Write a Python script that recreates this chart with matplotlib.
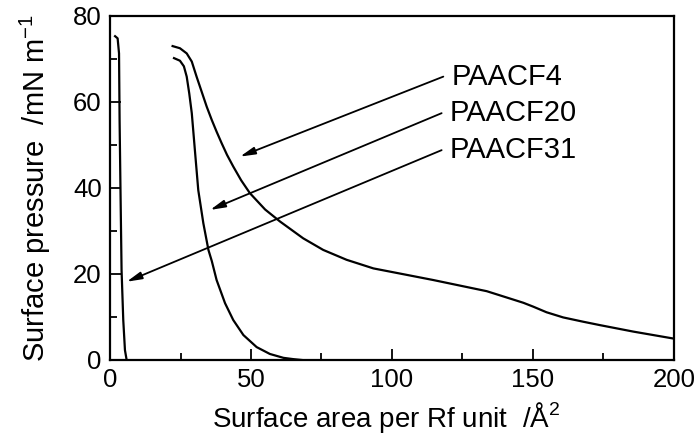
import numpy as np
import matplotlib.pyplot as plt
from matplotlib.ticker import MultipleLocator

plt.rcParams['font.family'] = ['Liberation Sans', 'DejaVu Sans']
plt.rcParams['mathtext.fontset'] = 'custom'
plt.rcParams['mathtext.rm'] = 'Liberation Sans'

# isotherm curves (area per Rf unit / A^2, surface pressure / mN m-1)
x_cf31 = [1.8, 2.7, 3.2, 3.4, 3.7, 4.1, 4.7, 5.3, 5.9]
y_cf31 = [75.3, 74.8, 71.3, 55.8, 40.3, 20.9, 9.3, 2.3, 0.0]

x_cf4 = [22.2, 24.8, 27.2, 29.0, 30.7, 32.5, 34.3, 36.1, 37.8, 39.6, 41.5,
         43.7, 46.5, 49.6, 55.0, 60.3, 68.5, 75.6, 83.9, 93.4, 105.2, 114.6,
         124.1, 133.6, 141.8, 146.6, 150.1, 154.8, 160.7, 167.8, 173.8,
         185.6, 199.7]
y_cf4 = [73.0, 72.5, 71.3, 69.4, 65.9, 62.4, 58.9, 55.8, 53.1, 50.4, 47.7,
         45.0, 41.8, 38.8, 35.0, 32.2, 28.3, 25.6, 23.3, 21.3, 19.8, 18.6,
         17.3, 16.0, 14.3, 13.3, 12.4, 11.1, 9.9, 8.9, 8.1,
         6.6, 5.0]

x_cf20 = [22.7, 24.8, 26.2, 27.2, 28.1, 29.0, 29.5, 30.1, 31.3, 33.1, 34.9,
          36.1, 37.8, 40.8, 43.7, 47.3, 52.0, 56.7, 61.5, 65.0, 68.0]
y_cf20 = [70.2, 69.6, 68.3, 65.9, 62.0, 57.4, 53.5, 48.8, 39.5, 31.8, 25.6,
          23.0, 18.6, 13.2, 9.3, 5.8, 3.0, 1.4, 0.5, 0.2, 0.0]

labels = ['PAACF4', 'PAACF20', 'PAACF31']
label_pos = [(118.2, 65.9), (117.6, 57.4), (117.6, 48.8)]
arrow_tips = [(46.1, 47.3), (35.5, 34.9), (5.9, 18.2)]

fig = plt.figure(figsize=(6.98, 4.38), dpi=100)
ax = fig.add_axes([0.1576, 0.1781, 0.808, 0.7854])

for xs, ys in [(x_cf31, y_cf31), (x_cf4, y_cf4), (x_cf20, y_cf20)]:
    ax.plot(xs, ys, color='black', lw=1.6, solid_joinstyle='round')

for lab, (lx, ly), (tx, ty) in zip(labels, label_pos, arrow_tips):
    ax.annotate('', xy=(tx, ty), xytext=(lx, ly),
                arrowprops=dict(arrowstyle='-|>,head_length=0.9,head_width=0.22',
                                color='black', lw=1.3, shrinkA=0, shrinkB=0))
    ax.text(lx + 3.0, ly, lab, fontsize=21, va='center', ha='left')

ax.set_xlim(0, 200)
ax.set_ylim(0, 80)
ax.xaxis.set_major_locator(MultipleLocator(50))
ax.xaxis.set_minor_locator(MultipleLocator(25))
ax.yaxis.set_major_locator(MultipleLocator(20))
ax.yaxis.set_minor_locator(MultipleLocator(10))
ax.tick_params(which='both', direction='in', top=False, right=False,
               width=1.3, labelsize=18.5)
ax.tick_params(which='major', length=8, pad=6)
ax.tick_params(which='minor', length=5)
for s in ax.spines.values():
    s.set_linewidth(1.6)

ax.set_xlabel(r'Surface area per Rf unit  /Å$^2$', fontsize=20, labelpad=3)
ax.xaxis.set_label_coords(0.489, -0.115)
ax.set_ylabel(r'Surface pressure  /mN m$^{-1}$', fontsize=21, labelpad=14)

fig.savefig('out.png', dpi=100)
